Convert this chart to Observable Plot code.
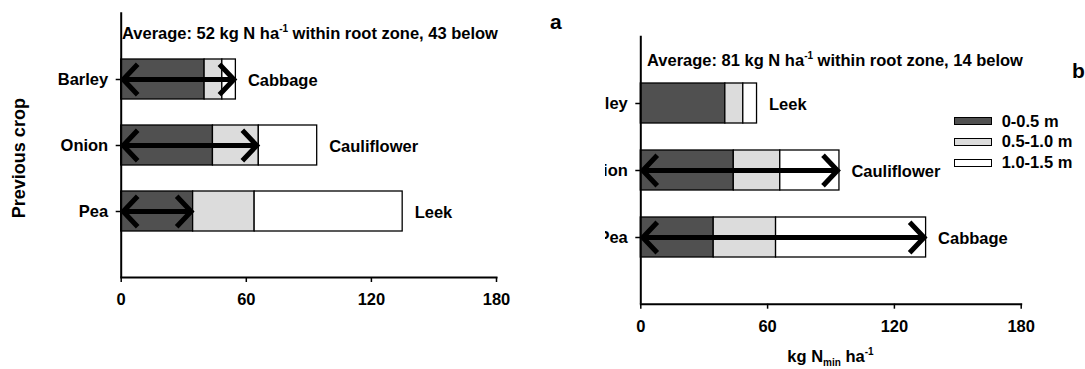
<!DOCTYPE html>
<html><head><meta charset="utf-8">
<script src="https://cdn.jsdelivr.net/npm/d3@7"></script>
<script src="https://cdn.jsdelivr.net/npm/@observablehq/plot@0.6"></script>
<style>
body{margin:0;background:#fff;}
#wrap{position:relative;width:1085px;height:369px;overflow:hidden;background:#fff;font-family:"Liberation Sans",Arial,sans-serif;font-weight:bold;color:#000;}
.abs{position:absolute;white-space:nowrap;line-height:1;font-size:16.5px;}
.sup{font-size:10px;position:relative;top:-7px;}
.sub{font-size:10px;position:relative;top:4px;}
.box{position:absolute;box-sizing:border-box;border:1.5px solid #000;}
svg{position:absolute;top:0;}
</style></head><body><div id="wrap"></div>
<script>
// ---- data ----
const previousCrops = ["Barley", "Onion", "Pea"];
const depths = ["0-0.5 m", "0.5-1.0 m", "1.0-1.5 m"];
const depthColors = ["#505050", "#dcdcdc", "#ffffff"];
const nmin0to05 = [40, 44, 34.5];
const nmin05to10 = [8.5, 22, 29.5];
const nmin10to15 = [6.5, 28, 71];
const followingCropsA = ["Cabbage", "Cauliflower", "Leek"];
const followingCropsB = ["Leek", "Cauliflower", "Cabbage"];
const rootLayersA = [3, 2, 1];   // soil layers reached by the arrow
const rootLayersB = [0, 3, 3];
const averageWithin = [52, 81];
const averageBelow = [43, 14];
const panelLetters = ["a", "b"];
const xTicks = [0, 60, 120, 180];
const yTitle = "Previous crop";

const layers = [nmin0to05, nmin05to10, nmin10to15];
const rows = previousCrops.flatMap((crop, i) => depths.map((depth, j) => ({crop, depth, value: layers[j][i]})));
const totals = previousCrops.map((crop, i) => ({crop, total: layers.reduce((s, l) => s + l[i], 0)}));

const FONT = '"Liberation Sans", Arial, sans-serif';

function panel({width, marginLeft, marginRight, marginTop, marginBottom, following, reach, yLabel}) {
  const arrows = previousCrops.map((crop, i) => ({crop, end: layers.slice(0, reach[i]).reduce((s, l) => s + l[i], 0)})).filter(d => d.end > 0);
  const labels = totals.map((d, i) => ({...d, name: following[i]}));
  const arrowOpts = {y1: "crop", y2: "crop", stroke: "#000", strokeWidth: 5, headAngle: 93, headLength: 6.3, strokeLinecap: "butt", strokeLinejoin: "miter", strokeMiterlimit: 4, inset: 2};
  return Plot.plot({
    width, height: 369, marginLeft, marginRight, marginTop, marginBottom,
    style: {fontFamily: FONT, fontSize: "16.5px", fontWeight: "bold", color: "#000", background: "transparent", overflow: "hidden"},
    x: {domain: [0, 180], label: null},
    y: {domain: previousCrops, paddingInner: 0.4, paddingOuter: 0.7, label: null},
    color: {domain: depths, range: depthColors},
    marks: [
      Plot.barX(rows, {x: "value", y: "crop", fill: "depth", stroke: "#000", strokeWidth: 1.3}),
      Plot.arrow(arrows, {x1: 0, x2: "end", ...arrowOpts}),
      Plot.arrow(arrows, {x1: "end", x2: 0, ...arrowOpts}),
      Plot.text(labels, {x: "total", y: "crop", text: "name", textAnchor: "start", dx: 12, dy: 1.5, fill: "#000"}),
      Plot.ruleX([0], {stroke: "#000", strokeWidth: 2}),
      Plot.frame({anchor: "bottom", stroke: "#000", strokeWidth: 2}),
      Plot.axisX({ticks: xTicks, tickSize: 5, tickPadding: 11, label: null, stroke: "#000", strokeWidth: 1.5, fill: "#000"}),
      Plot.axisY({tickSize: 5, tickPadding: 8, label: null, stroke: "#000", strokeWidth: 1.5, fill: "#000"}),
      yLabel ? Plot.text([yLabel], {frameAnchor: "left", textAnchor: "middle", dx: -(marginLeft - 24), dy: 13, rotate: -90, lineAnchor: "bottom", fontSize: 18, fill: "#000"}) : null
    ]
  });
}

const wrap = document.getElementById("wrap");
const a = panel({width: 605, marginLeft: 120.7, marginRight: 109, marginTop: 12.3, marginBottom: 92, following: followingCropsA, reach: rootLayersA, yLabel: yTitle});
a.style.left = "0px";
const b = panel({width: 480, marginLeft: 35.3, marginRight: 64.3, marginTop: 35.7, marginBottom: 65.3, following: followingCropsB, reach: rootLayersB});
b.style.left = "605px";
wrap.appendChild(a);
wrap.appendChild(b);

function addText(html, left, top, extra = {}) {
  const d = document.createElement("div");
  d.className = "abs";
  d.innerHTML = html;
  d.style.left = left + "px";
  d.style.top = top + "px";
  Object.assign(d.style, extra);
  wrap.appendChild(d);
  return d;
}
// averages
const avgPos = [[122, 25.3], [647, 52]];
averageWithin.forEach((v, i) => {
  addText(`Average: ${v} kg N ha<span class="sup">-1</span> within root zone, ${averageBelow[i]} below`, avgPos[i][0], avgPos[i][1]);
});
// panel letters
const letterPos = [[550, 10.5], [1072, 59.5]];
panelLetters.forEach((t, i) => addText(t, letterPos[i][0], letterPos[i][1], {fontSize: "21px"}));
// x axis title (panel b)
addText(`kg N<span class="sub">min</span> ha<span class="sup">-1</span>`, 830.5, 347.7, {transform: "translateX(-50%)"});
// legend
const legendRowY = [121, 141.5, 162.5];
depths.forEach((d, i) => {
  const box = document.createElement("div");
  box.className = "box";
  Object.assign(box.style, {left: "954px", top: (legendRowY[i] - 4) + "px", width: "37.5px", height: "8px", background: depthColors[i]});
  wrap.appendChild(box);
  addText(d, 1001.7, legendRowY[i] - 8.5);
});
</script></body></html>
